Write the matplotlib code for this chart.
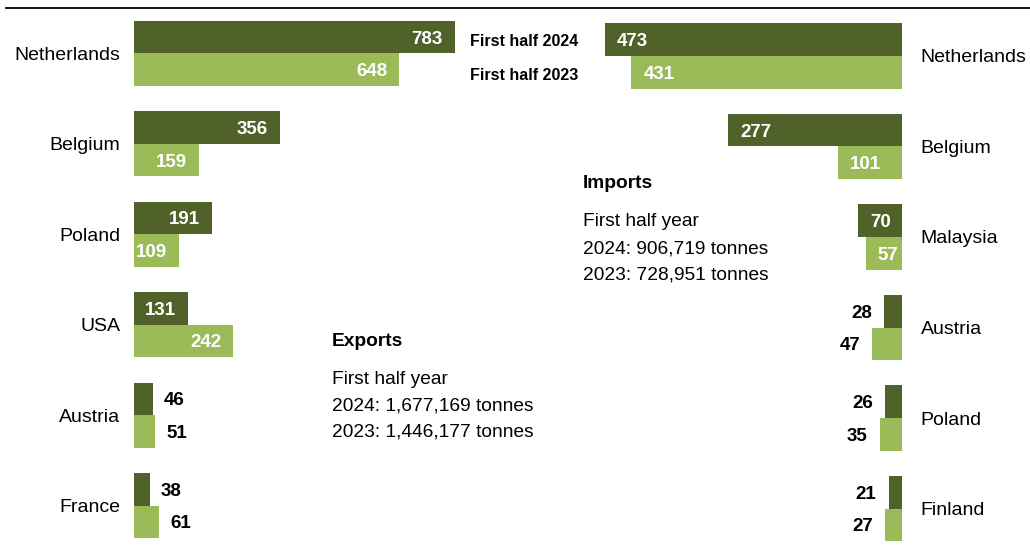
import matplotlib
matplotlib.use("Agg")
import matplotlib.pyplot as plt
from matplotlib.lines import Line2D

# Data (thousand tonnes)
exp_countries = ['Netherlands', 'Belgium', 'Poland', 'USA', 'Austria', 'France']
exp_2024 = [783, 356, 191, 131, 46, 38]
exp_2023 = [648, 159, 109, 242, 51, 61]

imp_countries = ['Netherlands', 'Belgium', 'Malaysia', 'Austria', 'Poland', 'Finland']
imp_2024 = [473, 277, 70, 28, 26, 21]
imp_2023 = [431, 101, 57, 47, 35, 27]

legend_labels = ['First half 2024', 'First half 2023']
exp_note = ['Exports', 'First half year', '2024: 1,677,169 tonnes', '2023: 1,446,177 tonnes']
imp_note = ['Imports', 'First half year', '2024: 906,719 tonnes', '2023: 728,951 tonnes']

DARK = '#506229'
LIGHT = '#9bbb59'
W, H = 1030, 546

plt.rcParams['font.family'] = ['Liberation Sans', 'DejaVu Sans']

fig = plt.figure(figsize=(W / 100, H / 100), dpi=100)


def px(x, y):
    # pixel position (from top-left) -> figure fraction
    return x / W, 1 - y / H


def draw_panel(ax, countries, v24, v23, side, inside_min):
    n = len(countries)
    off, bh = 0.18, 0.36
    for i in range(n):
        ax.barh(i - off, v24[i], height=bh, color=DARK, edgecolor='none')
        ax.barh(i + off, v23[i], height=bh, color=LIGHT, edgecolor='none')
        for yv, v in ((i - off, v24[i]), (i + off, v23[i])):
            if v >= inside_min:
                dx = -12 if side == 'left' else 12
                ha = 'right' if side == 'left' else 'left'
                col = 'white'
            else:
                dx = 11 if side == 'left' else -12
                ha = 'left' if side == 'left' else 'right'
                col = 'black'
            ax.annotate(str(v), (v, yv), xytext=(dx, 0), textcoords='offset pixels',
                        ha=ha, va='center_baseline', color=col, fontsize=13.5,
                        fontweight='bold')
        if side == 'left':
            ax.annotate(countries[i], (0, i), xytext=(-14, 0), textcoords='offset pixels',
                        ha='right', va='center_baseline', fontsize=14)
        else:
            ax.annotate(countries[i], (0, i), xytext=(19, 0), textcoords='offset pixels',
                        ha='left', va='center_baseline', fontsize=14)
    ax.axis('off')


# Exports (left), bars grow to the right from x=134 px
ax_l = fig.add_axes([134.3 / W, 0, 327.2 / W, (H - 8) / H])
ax_l.set_xlim(0, 800)
ax_l.set_ylim(5.447, -0.501)
draw_panel(ax_l, exp_countries, exp_2024, exp_2023, 'left', 100)

# Imports (right), bars grow to the left from x=902 px
ax_r = fig.add_axes([588.2 / W, 0, 313.5 / W, (H - 8) / H])
ax_r.set_xlim(500, 0)
ax_r.set_ylim(5.414, -0.530)
draw_panel(ax_r, imp_countries, imp_2024, imp_2023, 'right', 50)

# legend text
for lab, yy in zip(legend_labels, (40, 74)):
    fig.text(*px(470, yy), lab, ha='left', va='center_baseline', fontsize=11.5,
             fontweight='bold')

# notes
for (x0, ys), note in (((332, (339, 377, 404, 430)), exp_note), ((583, (182, 220, 247, 273)), imp_note)):
    for k, (t, yy) in enumerate(zip(note, ys)):
        fig.text(*px(x0, yy), t, ha='left', va='center_baseline', fontsize=13.8,
                 fontweight='bold' if k == 0 else 'normal')

# top rule
fig.add_artist(Line2D([6 / W, 1], [1 - 8.3 / H, 1 - 8.3 / H], color='black', lw=1.3,
                      transform=fig.transFigure))

fig.savefig('out.png', dpi=100)
